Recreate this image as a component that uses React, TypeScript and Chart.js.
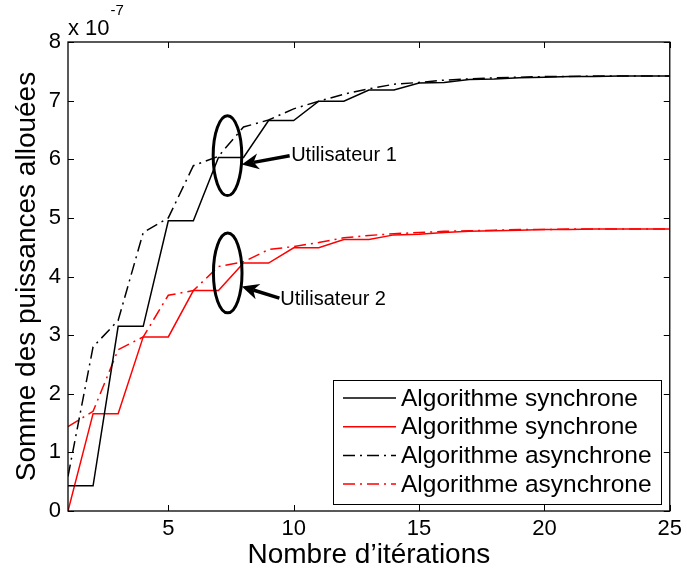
import React, { useEffect, useRef } from 'react';
import { Chart, registerables } from 'chart.js';

Chart.register(...registerables);

const iterations = [1, 2, 3, 4, 5, 6, 7, 8, 9, 10, 11, 12, 13, 14, 15, 16, 17, 18, 19, 20, 21, 22, 23, 24, 25];
const xTickValues = [5, 10, 15, 20, 25];
const yTickValues = [0, 1, 2, 3, 4, 5, 6, 7, 8];

const seriesLabels = ['Algorithme synchrone', 'Algorithme synchrone', 'Algorithme asynchrone', 'Algorithme asynchrone'];

// values in units of 1e-7
const syncUser1 = [0.43, 0.43, 3.15, 3.15, 4.95, 4.95, 6.03, 6.03, 6.66, 6.66, 6.99, 6.99, 7.18, 7.18, 7.30, 7.31, 7.36, 7.37, 7.39, 7.40, 7.41, 7.41, 7.42, 7.42, 7.42];
const syncUser2 = [0.0, 1.66, 1.66, 2.97, 2.97, 3.76, 3.76, 4.23, 4.23, 4.49, 4.49, 4.63, 4.63, 4.71, 4.72, 4.75, 4.77, 4.78, 4.79, 4.80, 4.80, 4.81, 4.81, 4.81, 4.81];
const asyncUser1 = [0.59, 2.80, 3.25, 4.75, 5.00, 5.89, 6.05, 6.55, 6.67, 6.86, 6.99, 7.11, 7.20, 7.28, 7.31, 7.35, 7.37, 7.39, 7.40, 7.41, 7.41, 7.42, 7.42, 7.42, 7.42];
const asyncUser2 = [1.44, 1.70, 2.75, 2.97, 3.68, 3.76, 4.17, 4.25, 4.46, 4.51, 4.58, 4.66, 4.70, 4.73, 4.75, 4.77, 4.78, 4.79, 4.80, 4.80, 4.81, 4.81, 4.81, 4.81, 4.81];

const annotationLabels = ['Utilisateur 1', 'Utilisateur 2'];
const xTitle = 'Nombre d\u2019itérations';
const yTitle = 'Somme des puissances allouées';

const FONT = '"Liberation Sans", Arial, Helvetica, sans-serif';
const DASHDOT = [12, 5, 2, 5];

function drawArrow(ctx: CanvasRenderingContext2D, x0: number, y0: number, x1: number, y1: number) {
  const ang = Math.atan2(y1 - y0, x1 - x0);
  const dx = Math.cos(ang), dy = Math.sin(ang);
  const px = -dy, py = dx;
  const headLen = 17, headHalf = 8, notch = 5;
  ctx.lineWidth = 3.5;
  ctx.beginPath();
  ctx.moveTo(x0, y0);
  ctx.lineTo(x1 - dx * (headLen - notch), y1 - dy * (headLen - notch));
  ctx.stroke();
  ctx.beginPath();
  ctx.moveTo(x1, y1);
  ctx.lineTo(x1 - dx * headLen + px * headHalf, y1 - dy * headLen + py * headHalf);
  ctx.lineTo(x1 - dx * (headLen - notch), y1 - dy * (headLen - notch));
  ctx.lineTo(x1 - dx * headLen - px * headHalf, y1 - dy * headLen - py * headHalf);
  ctx.closePath();
  ctx.fill();
}

const decorPlugin = {
  id: 'matlabDecor',
  afterDatasetsDraw(chart: any) {
    const { ctx, chartArea: a, scales } = chart;
    const xs = scales.x, ys = scales.y;
    ctx.save();
    ctx.strokeStyle = '#000';
    ctx.fillStyle = '#000';
    ctx.setLineDash([]);

    // axes box
    ctx.lineWidth = 1.3;
    ctx.strokeRect(a.left, a.top, a.right - a.left, a.bottom - a.top);

    // inner ticks
    const tl = 6;
    ctx.lineWidth = 1;
    ctx.beginPath();
    xTickValues.forEach((v) => {
      const p = Math.round(xs.getPixelForValue(v)) + 0.5;
      ctx.moveTo(p, a.bottom); ctx.lineTo(p, a.bottom - tl);
      ctx.moveTo(p, a.top); ctx.lineTo(p, a.top + tl);
    });
    yTickValues.forEach((v) => {
      const p = Math.round(ys.getPixelForValue(v)) + 0.5;
      ctx.moveTo(a.left, p); ctx.lineTo(a.left + tl, p);
      ctx.moveTo(a.right, p); ctx.lineTo(a.right - tl, p);
    });
    ctx.stroke();

    // ellipses
    const ellCenters = [[7.36, 6.06], [7.37, 4.06]];
    ctx.lineWidth = 3;
    ellCenters.forEach(([cx, cy]) => {
      const px = xs.getPixelForValue(cx);
      const py = ys.getPixelForValue(cy);
      const rx = Math.abs(xs.getPixelForValue(cx + 0.57) - px);
      const ry = Math.abs(ys.getPixelForValue(cy + 0.68) - py);
      ctx.beginPath();
      ctx.ellipse(px, py, rx, ry, 0, 0, Math.PI * 2);
      ctx.stroke();
    });

    // arrows
    const arrows = [
      [9.84, 6.06, 7.93, 5.91],
      [9.43, 3.63, 7.93, 3.83],
    ];
    arrows.forEach(([x0, y0, x1, y1]) => {
      drawArrow(ctx, xs.getPixelForValue(x0), ys.getPixelForValue(y0), xs.getPixelForValue(x1), ys.getPixelForValue(y1));
    });

    // annotation text
    ctx.font = `20px ${FONT}`;
    ctx.textBaseline = 'middle';
    ctx.textAlign = 'left';
    const textPos = [[9.9, 6.06], [9.47, 3.6]];
    annotationLabels.forEach((t, i) => {
      ctx.fillText(t, xs.getPixelForValue(textPos[i][0]), ys.getPixelForValue(textPos[i][1]));
    });

    // legend box
    const lx = 333, ly = 380, lw = 328, lh = 124;
    ctx.fillStyle = '#fff';
    ctx.fillRect(lx, ly, lw, lh);
    ctx.lineWidth = 1;
    ctx.strokeStyle = '#000';
    ctx.strokeRect(lx + 0.5, ly + 0.5, lw, lh);
    ctx.font = `24.5px ${FONT}`;
    chart.data.datasets.forEach((ds: any, i: number) => {
      const yy = ly + 18 + i * 28.7;
      ctx.strokeStyle = ds.borderColor;
      ctx.lineWidth = ds.borderWidth;
      ctx.setLineDash(ds.borderDash || []);
      ctx.beginPath();
      ctx.moveTo(343, yy);
      ctx.lineTo(396, yy);
      ctx.stroke();
      ctx.setLineDash([]);
      ctx.fillStyle = '#000';
      ctx.fillText(ds.label, 401, yy + 1);
    });

    // exponent label
    ctx.fillStyle = '#000';
    ctx.textBaseline = 'alphabetic';
    ctx.font = `22px ${FONT}`;
    ctx.fillText('x 10', a.left, 35);
    const w = ctx.measureText('x 10').width;
    ctx.font = `15px ${FONT}`;
    ctx.fillText('-7', a.left + w + 1, 15);

    ctx.restore();
  },
};

export default function App() {
  const ref = useRef<HTMLCanvasElement | null>(null);
  useEffect(() => {
    if (!ref.current) return;
    const mk = (label: string, data: number[], color: string, dash: number[]) => ({
      label,
      data: iterations.map((x, i) => ({ x, y: data[i] })),
      borderColor: color,
      backgroundColor: color,
      borderWidth: 1.5,
      borderDash: dash,
      pointRadius: 0,
      tension: 0,
      fill: false,
    });
    const chart = new Chart(ref.current, {
      type: 'line',
      data: {
        datasets: [
          mk(seriesLabels[0], syncUser1, '#000000', []),
          mk(seriesLabels[1], syncUser2, '#ff0000', []),
          mk(seriesLabels[2], asyncUser1, '#000000', DASHDOT),
          mk(seriesLabels[3], asyncUser2, '#ff0000', DASHDOT),
        ],
      },
      options: {
        animation: false,
        responsive: false,
        devicePixelRatio: 1,
        layout: { padding: { top: 42, right: 17, left: 0, bottom: 0 } },
        plugins: { legend: { display: false }, tooltip: { enabled: false } },
        scales: {
          x: {
            type: 'linear',
            min: 1,
            max: 25,
            grid: { display: false, drawTicks: false },
            border: { display: false },
            afterBuildTicks: (s: any) => { s.ticks = xTickValues.map((v) => ({ value: v })); },
            afterFit: (s: any) => { s.height = 65; },
            ticks: { color: '#000', font: { family: FONT, size: 22 }, padding: 5, maxRotation: 0, autoSkip: false },
            title: { display: true, text: xTitle, color: '#000', font: { family: FONT, size: 28 }, padding: { top: 0, bottom: 4 } },
          },
          y: {
            type: 'linear',
            min: 0,
            max: 8,
            grid: { display: false, drawTicks: false },
            border: { display: false },
            afterBuildTicks: (s: any) => { s.ticks = yTickValues.map((v) => ({ value: v })); },
            afterFit: (s: any) => { s.width = 68; },
            ticks: { color: '#000', font: { family: FONT, size: 22 }, padding: 7, autoSkip: false },
            title: { display: true, text: yTitle, color: '#000', font: { family: FONT, size: 28 }, padding: { top: 10, bottom: 0 } },
          },
        },
      },
      plugins: [decorPlugin],
    });
    return () => chart.destroy();
  }, []);
  return (
    <div style={{ position: 'absolute', left: 0, top: 0, width: 687, height: 576, background: '#fff' }}>
      <canvas ref={ref} width={687} height={576} style={{ display: 'block' }} />
    </div>
  );
}
